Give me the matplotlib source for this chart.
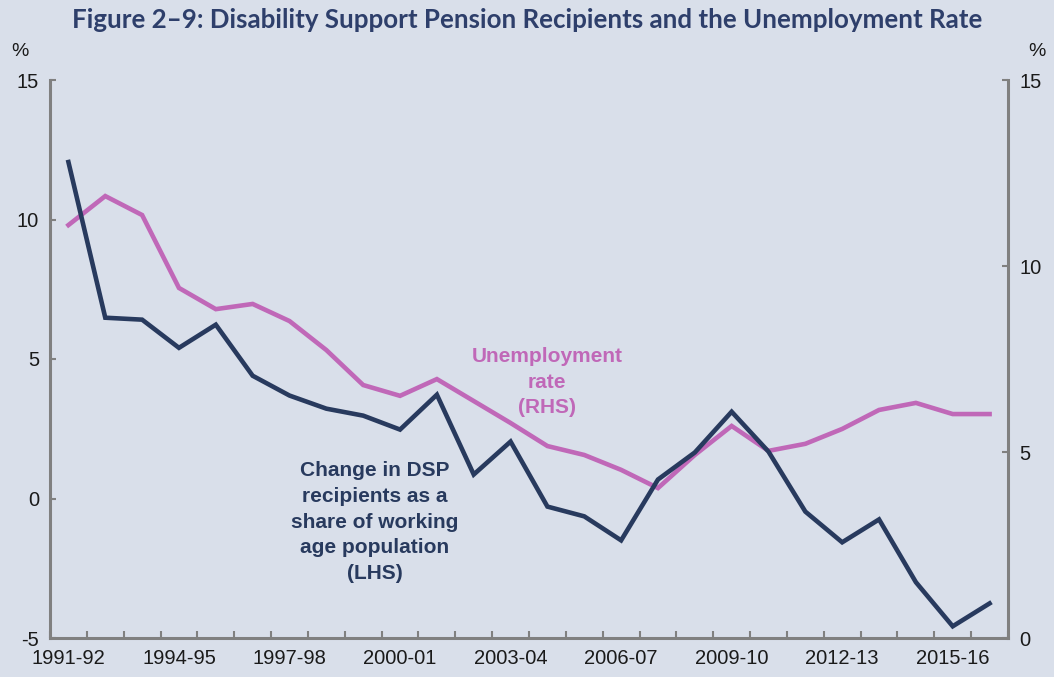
import matplotlib
matplotlib.use("Agg")
import matplotlib.pyplot as plt
import numpy as np

years = ["1991-92", "1992-93", "1993-94", "1994-95", "1995-96", "1996-97", "1997-98",
         "1998-99", "1999-00", "2000-01", "2001-02", "2002-03", "2003-04", "2004-05",
         "2005-06", "2006-07", "2007-08", "2008-09", "2009-10", "2010-11", "2011-12",
         "2012-13", "2013-14", "2014-15", "2015-16", "2016-17"]
dsp_change = [12.06, 6.48, 6.41, 5.40, 6.23, 4.40, 3.69, 3.22, 2.97, 2.47, 3.72, 0.86, 2.04,
              -0.29, -0.64, -1.50, 0.68, 1.65, 3.11, 1.68, -0.47, -1.57, -0.75, -3.0, -4.58, -3.76]
unemployment = [11.1, 11.88, 11.37, 9.41, 8.84, 8.98, 8.52, 7.74, 6.80, 6.51, 6.96, 6.37, 5.78,
                5.16, 4.92, 4.52, 4.03, 4.92, 5.70, 5.03, 5.22, 5.62, 6.13, 6.32, 6.02, 6.02]
left_ticks = [-5, 0, 5, 10, 15]
right_ticks = [0, 5, 10, 15]

BG = "#d9dfea"
NAVY = "#283a5e"
PINK = "#c068b8"
GREY = "#808080"
TXT = "#1a1a1a"
tickfont = ["Liberation Sans Narrow", "Liberation Sans", "DejaVu Sans"]

fig = plt.figure(figsize=(10.54, 6.77), dpi=100, facecolor=BG)
ax = fig.add_axes([50/1054, 39/677, 958/1054, 558/677])
ax.set_facecolor(BG)
ax2 = ax.twinx()

x = np.arange(len(years))
ax.plot(x, dsp_change, color=NAVY, lw=3.3, solid_joinstyle="miter", zorder=3)
ax2.plot(x, unemployment, color=PINK, lw=3.3, solid_joinstyle="miter", zorder=2)
ax.set_zorder(ax2.get_zorder() + 1)
ax.patch.set_visible(False)
ax2.patch.set_visible(True)
ax2.patch.set_facecolor(BG)

ax.set_xlim(-0.5, len(years) - 0.5)
ax.set_ylim(-5, 15)
ax2.set_ylim(0, 15)

for a in (ax, ax2):
    for s in a.spines.values():
        s.set_visible(False)
ax.spines["left"].set_visible(True)
ax.spines["bottom"].set_visible(True)
ax2.spines["right"].set_visible(True)
for s in (ax.spines["left"], ax.spines["bottom"], ax2.spines["right"]):
    s.set_color(GREY)
    s.set_linewidth(2.2)

ax.set_yticks(left_ticks)
ax.set_yticklabels([str(t) for t in left_ticks], fontfamily=tickfont, fontsize=14.5, color=TXT)
ax2.set_yticks(right_ticks)
ax2.set_yticklabels([str(t) for t in right_ticks], fontfamily=tickfont, fontsize=14.5, color=TXT)
ax.tick_params(axis="y", direction="in", length=4, width=1.5, color=GREY, pad=8)
ax2.tick_params(axis="y", direction="in", length=4, width=1.5, color=GREY, pad=8)

ax.set_xticks(np.arange(len(years) + 1) - 0.5)
ax.set_xticklabels([])
ax.tick_params(axis="x", which="major", direction="in", length=5, width=1.5, color=GREY)
lab_idx = list(range(0, len(years), 3))
ax.set_xticks(lab_idx, minor=True)
ax.set_xticklabels([years[i] for i in lab_idx], minor=True, fontfamily=tickfont,
                   fontsize=14.5, color=TXT)
ax.tick_params(axis="x", which="minor", length=0, pad=8)

fig.text(20/1054, 1 - 52/677, "%", ha="center", va="center", fontsize=14,
         fontfamily=tickfont, color=TXT)
fig.text(1037/1054, 1 - 52/677, "%", ha="center", va="center", fontsize=14,
         fontfamily=tickfont, color=TXT)

fig.text(0.5, 1 - 20/677,
         "Figure 2\u20139: Disability Support Pension Recipients and the Unemployment Rate",
         ha="center", va="center", fontsize=18.6, fontweight="bold", color="#2e3f6b",
         fontfamily=["Lato", "DejaVu Sans"])

fig.text(547/1054, 1 - 382/677, "Unemployment\nrate\n(RHS)", ha="center", va="center",
         fontsize=15, fontweight="bold", color=PINK, linespacing=1.45,
         fontfamily=["Liberation Sans", "DejaVu Sans"])
fig.text(375/1054, 1 - 522/677,
         "Change in DSP\nrecipients as a\nshare of working\nage population\n(LHS)",
         ha="center", va="center", fontsize=15, fontweight="bold", color=NAVY,
         linespacing=1.45, fontfamily=["Liberation Sans", "DejaVu Sans"])

fig.savefig("out.png", dpi=100, facecolor=BG)
